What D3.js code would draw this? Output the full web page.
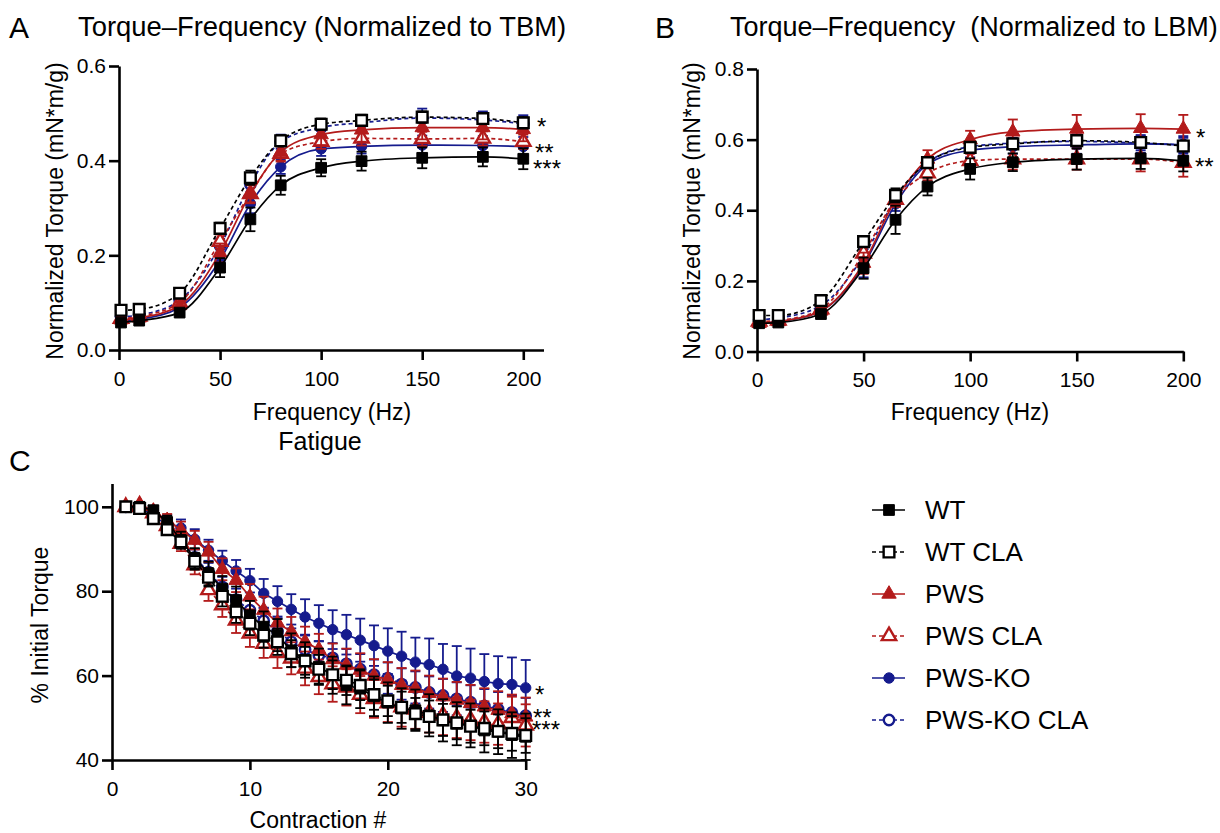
<!DOCTYPE html>
<html>
<head>
<meta charset="utf-8">
<title>Torque–Frequency and Fatigue</title>
<script src="https://cdn.jsdelivr.net/npm/d3@7.9.0/dist/d3.min.js"></script>
<style>
  body { margin: 0; background: #fff; }
  svg { display: block; font-family: "Liberation Sans", Arial, sans-serif; }
</style>
</head>
<body>
<svg id="fig" width="1220" height="833"></svg>
<script>
// groups, in legend order
const groups = ['WT', 'WT CLA', 'PWS', 'PWS CLA', 'PWS-KO', 'PWS-KO CLA'];

// stimulation frequencies (Hz)
const freqs = [1, 10, 30, 50, 65, 80, 100, 120, 150, 180, 200];

// A: torque normalized to TBM (mean, SEM)
const wtA      = [0.058, 0.062, 0.079, 0.174, 0.276, 0.348, 0.385, 0.399, 0.406, 0.408, 0.404];
const wtClaA   = [0.084, 0.086, 0.120, 0.257, 0.364, 0.442, 0.477, 0.485, 0.492, 0.489, 0.480];
const pwsA     = [0.064, 0.068, 0.094, 0.205, 0.330, 0.418, 0.455, 0.465, 0.470, 0.470, 0.466];
const pwsClaA  = [0.066, 0.071, 0.100, 0.229, 0.330, 0.415, 0.440, 0.447, 0.446, 0.447, 0.440];
const koA      = [0.061, 0.065, 0.090, 0.190, 0.309, 0.387, 0.425, 0.430, 0.433, 0.432, 0.430];
const koClaA   = [0.070, 0.074, 0.105, 0.220, 0.350, 0.440, 0.470, 0.480, 0.490, 0.486, 0.478];
const wtA_sem     = [0.004, 0.004, 0.006, 0.020, 0.025, 0.020, 0.018, 0.020, 0.022, 0.020, 0.022];
const wtClaA_sem  = [0.004, 0.004, 0.006, 0.012, 0.015, 0.012, 0.012, 0.012, 0.012, 0.012, 0.012];
const pwsA_sem    = [0.005, 0.005, 0.008, 0.020, 0.020, 0.020, 0.022, 0.025, 0.025, 0.025, 0.025];
const pwsClaA_sem = [0.005, 0.005, 0.008, 0.015, 0.018, 0.015, 0.015, 0.015, 0.015, 0.015, 0.015];
const koA_sem     = [0.004, 0.004, 0.006, 0.025, 0.020, 0.015, 0.015, 0.015, 0.020, 0.020, 0.020];
const koClaA_sem  = [0.005, 0.005, 0.008, 0.015, 0.020, 0.015, 0.015, 0.015, 0.020, 0.018, 0.018];

// B: torque normalized to LBM (mean, SEM)
const wtB      = [0.080, 0.082, 0.106, 0.236, 0.373, 0.467, 0.517, 0.536, 0.545, 0.547, 0.540];
const wtClaB   = [0.102, 0.102, 0.144, 0.311, 0.442, 0.535, 0.578, 0.588, 0.597, 0.592, 0.582];
const pwsB     = [0.080, 0.085, 0.115, 0.250, 0.430, 0.545, 0.600, 0.622, 0.630, 0.632, 0.630];
const pwsClaB  = [0.085, 0.088, 0.120, 0.278, 0.430, 0.505, 0.540, 0.545, 0.545, 0.545, 0.535];
const koB      = [0.080, 0.085, 0.115, 0.245, 0.418, 0.530, 0.570, 0.580, 0.585, 0.588, 0.585];
const koClaB   = [0.090, 0.095, 0.130, 0.270, 0.430, 0.535, 0.580, 0.590, 0.595, 0.590, 0.585];
const wtB_sem     = [0.005, 0.005, 0.008, 0.030, 0.040, 0.025, 0.030, 0.025, 0.030, 0.030, 0.030];
const wtClaB_sem  = [0.005, 0.005, 0.008, 0.015, 0.020, 0.015, 0.015, 0.015, 0.015, 0.015, 0.015];
const pwsB_sem    = [0.005, 0.005, 0.008, 0.030, 0.020, 0.025, 0.025, 0.035, 0.040, 0.040, 0.040];
const pwsClaB_sem = [0.005, 0.005, 0.008, 0.020, 0.020, 0.020, 0.020, 0.030, 0.030, 0.035, 0.040];
const koB_sem     = [0.005, 0.005, 0.008, 0.035, 0.020, 0.020, 0.020, 0.020, 0.025, 0.025, 0.025];
const koClaB_sem  = [0.005, 0.005, 0.008, 0.020, 0.020, 0.015, 0.015, 0.015, 0.020, 0.020, 0.020];

// C: fatigue, % of initial torque per contraction (mean, SEM)
const contractions = d3.range(1, 31);
const wtC     = [100, 100, 99.2, 96.4, 92.1, 87.8, 84.2, 80.6, 77.9, 74.3, 71.6, 69.6, 66.0, 63.7, 62.1, 60.1, 57.7, 56.9, 55.1, 53.6, 52.2, 51.8, 50.6, 49.4, 48.6, 48.2, 47.0, 46.7, 45.9, 45.5];
const wtClaC  = [100, 99.6, 97.2, 94.6, 91.7, 87.1, 83.3, 78.8, 75.1, 72.4, 69.6, 68.0, 65.2, 63.5, 61.5, 60.2, 58.9, 57.7, 55.5, 54.0, 52.5, 51.0, 50.3, 49.5, 48.8, 48.0, 47.5, 46.8, 46.3, 45.8];
const pwsC    = [100, 100.5, 99.0, 96.8, 94.5, 92.1, 89.3, 85.2, 82.6, 78.7, 75.5, 72.5, 70.4, 68.0, 66.2, 63.8, 62.5, 61.3, 59.9, 59.1, 57.7, 57.0, 55.8, 55.0, 54.2, 53.4, 52.6, 51.8, 51.0, 50.2];
const pwsClaC = [100, 100.3, 98.5, 95.5, 91.3, 86.2, 80.3, 76.7, 73.1, 70.0, 67.6, 65.4, 64.1, 61.7, 59.7, 58.0, 57.2, 55.5, 54.5, 53.5, 52.5, 52.0, 51.2, 50.6, 50.0, 49.5, 49.0, 48.5, 50.0, 48.2];
const koC     = [100, 100.2, 99.2, 96.4, 95.0, 92.3, 89.7, 87.2, 84.8, 82.5, 79.5, 77.6, 75.7, 73.9, 72.4, 70.9, 69.7, 68.4, 67.1, 65.8, 64.6, 63.2, 62.6, 61.5, 59.9, 59.4, 58.6, 58.1, 57.9, 57.1];
const koClaC  = [100, 99.8, 98.0, 95.5, 92.5, 88.0, 84.5, 81.0, 78.0, 75.5, 73.0, 70.5, 68.0, 66.2, 64.8, 64.2, 62.8, 61.5, 60.2, 59.4, 58.0, 57.2, 56.0, 55.3, 54.5, 53.7, 52.8, 52.0, 51.2, 50.5];
const wtC_sem     = [0, 0.5, 1.0, 1.5, 2.0, 2.4, 2.8, 3.0, 3.2, 3.4, 3.6, 3.8, 4.0, 4.2, 4.3, 4.4, 4.5, 4.6, 4.7, 4.8, 4.8, 4.9, 5.0, 5.0, 5.1, 5.2, 5.2, 5.3, 5.4, 5.5];
const wtClaC_sem  = [0, 0.4, 0.8, 1.2, 1.6, 2.0, 2.2, 2.4, 2.6, 2.8, 3.0, 3.1, 3.2, 3.3, 3.4, 3.4, 3.5, 3.5, 3.6, 3.6, 3.7, 3.7, 3.8, 3.8, 3.9, 3.9, 4.0, 4.0, 4.1, 4.1];
const pwsC_sem    = [0, 0.5, 1.0, 1.5, 2.0, 2.2, 2.4, 2.6, 2.8, 3.0, 3.2, 3.4, 3.5, 3.6, 3.7, 3.8, 3.9, 4.0, 4.0, 4.1, 4.1, 4.2, 4.2, 4.3, 4.3, 4.4, 4.4, 4.5, 4.5, 4.6];
const pwsClaC_sem = [0, 0.5, 1.0, 1.4, 1.8, 2.2, 2.6, 2.8, 3.0, 3.2, 3.4, 3.6, 3.8, 4.0, 4.1, 4.2, 4.3, 4.4, 4.5, 4.5, 4.6, 4.6, 4.7, 4.7, 4.8, 4.8, 4.9, 4.9, 5.0, 5.0];
const koC_sem     = [0, 0.5, 1.0, 1.6, 2.0, 2.4, 2.5, 2.4, 2.6, 2.8, 3.4, 3.6, 3.6, 4.2, 4.3, 4.6, 4.7, 5.1, 4.8, 5.4, 5.8, 5.8, 6.2, 6.0, 7.1, 7.0, 6.5, 6.5, 6.4, 6.6];
const koClaC_sem  = [0, 0.4, 0.8, 1.2, 1.6, 2.0, 2.2, 2.4, 2.6, 2.8, 3.0, 3.1, 3.2, 3.3, 3.4, 3.5, 3.5, 3.6, 3.6, 3.7, 3.7, 3.8, 3.8, 3.9, 3.9, 4.0, 4.0, 4.1, 4.1, 4.2];

// tick values
const freqTicks = [0, 50, 100, 150, 200];
const tbmTicks = [0, 0.2, 0.4, 0.6];
const lbmTicks = [0, 0.2, 0.4, 0.6, 0.8];
const contractionTicks = [0, 10, 20, 30];
const pctTicks = [40, 60, 80, 100];

const RED = '#b31b1b';
const BLUE = '#151b8d';
const style = {
  'WT':         { color: '#000', dashed: false, shape: d3.symbolSquare,   filled: true },
  'WT CLA':     { color: '#000', dashed: true,  shape: d3.symbolSquare,   filled: false },
  'PWS':        { color: RED,    dashed: false, shape: d3.symbolTriangle, filled: true },
  'PWS CLA':    { color: RED,    dashed: true,  shape: d3.symbolTriangle, filled: false },
  'PWS-KO':     { color: BLUE,   dashed: false, shape: d3.symbolCircle,   filled: true },
  'PWS-KO CLA': { color: BLUE,   dashed: true,  shape: d3.symbolCircle,   filled: false }
};
const drawOrder = ['PWS-KO CLA', 'PWS-KO', 'PWS CLA', 'PWS', 'WT', 'WT CLA'];

const svg = d3.select('#fig');

function marker(sel, name) {
  const s = style[name];
  const area = s.shape === d3.symbolSquare ? 115 : s.shape === d3.symbolTriangle ? 90 : 85;
  sel.attr('d', d3.symbol().type(s.shape).size(area))
    .attr('fill', s.filled ? s.color : '#fff')
    .attr('stroke', s.color)
    .attr('stroke-width', s.filled ? 1 : 2.4);
}

function drawPanel(cfg) {
  const g = svg.append('g');
  const { x, y } = cfg;

  const xAxis = d3.axisBottom(x).tickValues(cfg.xTicks).tickSize(10).tickSizeOuter(0).tickPadding(11);
  const yAxis = d3.axisLeft(y).tickValues(cfg.yTicks).tickSize(10).tickSizeOuter(0).tickPadding(3);
  if (cfg.yFormat) yAxis.tickFormat(cfg.yFormat);

  const xg = g.append('g').attr('transform', `translate(0,${y.range()[0]})`).call(xAxis);
  const yg = g.append('g').attr('transform', `translate(${x.range()[0]},0)`).call(yAxis);
  [xg, yg].forEach(a => {
    a.attr('font-size', 21).attr('font-family', null);
    a.selectAll('path, line').attr('stroke', '#000').attr('stroke-width', 2.6);
    a.selectAll('text').attr('fill', '#000');
  });

  const line = d3.line().x(d => x(d[0])).y(d => y(d[1])).curve(cfg.curve);

  drawOrder.forEach(name => {
    const s = style[name];
    const rows = cfg.xs.map((xv, i) => [xv, cfg.means[name][i], cfg.sems[name][i]]);
    const sg = g.append('g');

    // error bars (mean ± SEM)
    const eb = sg.append('g').attr('stroke', s.color).attr('stroke-width', 1.8);
    rows.forEach(([xv, m, e]) => {
      if (!e) return;
      const cx = x(xv);
      eb.append('line').attr('x1', cx).attr('x2', cx).attr('y1', y(m - e)).attr('y2', y(m + e));
      eb.append('line').attr('x1', cx - 5).attr('x2', cx + 5).attr('y1', y(m + e)).attr('y2', y(m + e));
      eb.append('line').attr('x1', cx - 5).attr('x2', cx + 5).attr('y1', y(m - e)).attr('y2', y(m - e));
    });

    sg.append('path')
      .attr('d', line(rows))
      .attr('fill', 'none')
      .attr('stroke', s.color)
      .attr('stroke-width', 1.7)
      .attr('stroke-dasharray', s.dashed ? '4,3' : null);

    sg.selectAll('path.pt').data(rows).join('path')
      .attr('class', 'pt')
      .attr('transform', d => `translate(${x(d[0])},${y(d[1])})`)
      .call(marker, name);
  });

  cfg.stars.forEach(st => {
    g.append('text').attr('x', st[0]).attr('y', st[1]).attr('font-size', 24).text(st[2]);
  });
  return g;
}

const byGroup = arr => Object.fromEntries(groups.map((n, i) => [n, arr[i]]));

// Panel A
drawPanel({
  x: d3.scaleLinear().domain([0, 210]).range([119, 543.5]),
  y: d3.scaleLinear().domain([0, 0.6]).range([350, 66]),
  xTicks: freqTicks, yTicks: tbmTicks, yFormat: d3.format('.1f'),
  xs: freqs, curve: d3.curveMonotoneX,
  means: byGroup([wtA, wtClaA, pwsA, pwsClaA, koA, koClaA]),
  sems: byGroup([wtA_sem, wtClaA_sem, pwsA_sem, pwsClaA_sem, koA_sem, koClaA_sem]),
  stars: [[537, 135, '*'], [535, 161, '**'], [533, 177, '***']]
});

// Panel B
drawPanel({
  x: d3.scaleLinear().domain([0, 200]).range([757, 1183.3]),
  y: d3.scaleLinear().domain([0, 0.8]).range([351.5, 69]),
  xTicks: freqTicks, yTicks: lbmTicks, yFormat: d3.format('.1f'),
  xs: freqs, curve: d3.curveMonotoneX,
  means: byGroup([wtB, wtClaB, pwsB, pwsClaB, koB, koClaB]),
  sems: byGroup([wtB_sem, wtClaB_sem, pwsB_sem, pwsClaB_sem, koB_sem, koClaB_sem]),
  stars: [[1196, 146, '*'], [1195, 175, '**']]
});

// Panel C
drawPanel({
  x: d3.scaleLinear().domain([0, 30]).range([112, 525.7]),
  y: d3.scaleLinear().domain([40, 105.5]).range([760, 483.6]),
  xTicks: contractionTicks, yTicks: pctTicks,
  xs: contractions, curve: d3.curveLinear,
  means: byGroup([wtC, wtClaC, pwsC, pwsClaC, koC, koClaC]),
  sems: byGroup([wtC_sem, wtClaC_sem, pwsC_sem, pwsClaC_sem, koC_sem, koClaC_sem]),
  stars: [[535, 703, '*'], [533, 726, '**'], [532, 738, '***']]
});

// text: panel letters, titles, axis labels
const texts = [
  { t: 'A', x: 9, y: 38, size: 30 },
  { t: 'Torque–Frequency (Normalized to TBM)', x: 78, y: 36, size: 27.4 },
  { t: 'B', x: 655, y: 38, size: 30 },
  { t: 'Torque–Frequency\u00a0 (Normalized to LBM)', x: 730, y: 36, size: 27 },
  { t: 'C', x: 9, y: 471, size: 30 },
  { t: 'Frequency (Hz)', x: 332, y: 420, size: 23, anchor: 'middle' },
  { t: 'Fatigue', x: 320, y: 450, size: 25, anchor: 'middle' },
  { t: 'Frequency (Hz)', x: 970, y: 420, size: 23, anchor: 'middle' },
  { t: 'Contraction #', x: 318, y: 828, size: 23, anchor: 'middle' }
];
texts.forEach(d => {
  svg.append('text').attr('x', d.x).attr('y', d.y)
    .attr('font-size', d.size).attr('text-anchor', d.anchor || 'start').text(d.t);
});

const yLabels = [
  { t: 'Normalized Torque (mN*m/g)', x: 55, y: 211 },
  { t: 'Normalized Torque (mN*m/g)', x: 692, y: 211 },
  { t: '% Initial Torque', x: 40, y: 625 }
];
yLabels.forEach(d => {
  svg.append('text')
    .attr('transform', `translate(${d.x},${d.y}) rotate(-90)`)
    .attr('font-size', 23).attr('text-anchor', 'middle').attr('dy', '0.35em').text(d.t);
});

// legend
const legend = svg.append('g').attr('transform', 'translate(872,510)');
groups.forEach((name, i) => {
  const s = style[name];
  const row = legend.append('g').attr('transform', `translate(0,${i * 42})`);
  row.append('line').attr('x1', 0).attr('x2', 33).attr('y1', 0).attr('y2', 0)
    .attr('stroke', s.color).attr('stroke-width', 1.7)
    .attr('stroke-dasharray', s.dashed ? '4,3' : null);
  row.append('path').attr('transform', 'translate(17,0)').call(marker, name);
  row.append('text').attr('x', 53).attr('dy', '0.35em').attr('font-size', 26).text(name);
});
</script>
</body>
</html>
